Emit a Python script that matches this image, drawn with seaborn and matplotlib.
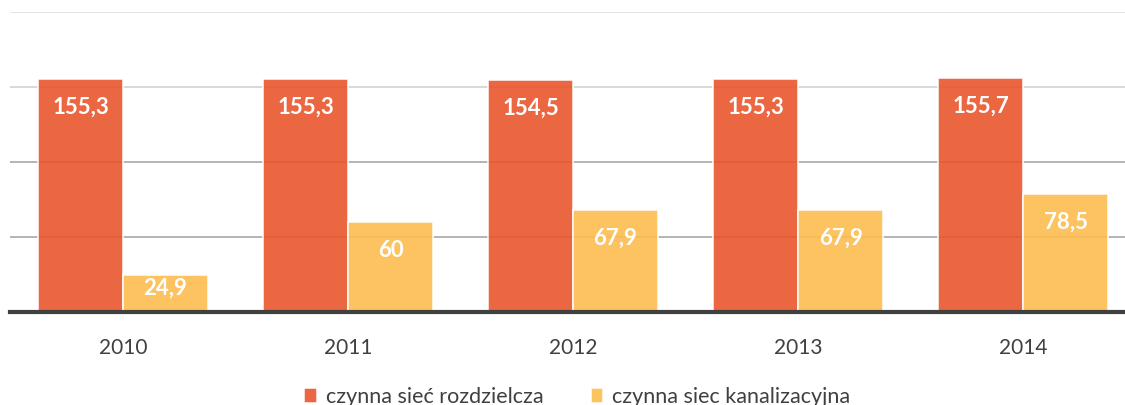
import pandas as pd
import matplotlib.pyplot as plt
import seaborn as sns

# === Data ===
years = ["2010", "2011", "2012", "2013", "2014"]
siec_rozdzielcza = [155.3, 155.3, 154.5, 155.3, 155.7]
siec_kanalizacyjna = [24.9, 60, 67.9, 67.9, 78.5]
series_names = ["czynna sieć rozdzielcza", "czynna siec kanalizacyjna"]
colors = ["#E8562D", "#FDBD50"]

df = pd.DataFrame({
    "rok": years * 2,
    "wartosc": siec_rozdzielcza + siec_kanalizacyjna,
    "seria": [series_names[0]] * len(years) + [series_names[1]] * len(years),
})

# === Figure ===
sns.set_style("white")
plt.rcParams["font.family"] = ["Lato", "DejaVu Sans"]

fig = plt.figure(figsize=(11.25, 4.05), dpi=100)
ax = fig.add_axes([10 / 1125, 93 / 405, 1115 / 1125, 300 / 405])

# gridlines
for y, c in [(200, "#E3E3E3"), (150, "#D6D6D6"), (100, "#AFAFAF"), (50, "#AFAFAF")]:
    ax.axhline(y, color=c, lw=1.3, zorder=0)

sns.barplot(data=df, x="rok", y="wartosc", hue="seria", palette=colors,
            saturation=1, width=0.756, alpha=0.9, linewidth=1.2,
            legend=True, ax=ax, zorder=2)

for cont in ax.containers:
    for bar in cont:
        bar.set_edgecolor((1, 1, 1, 0.4))

# value labels
for cont in ax.containers:
    for bar in cont:
        v = bar.get_height()
        x = bar.get_x() + bar.get_width() / 2
        txt = f"{v:g}".replace(".", ",")
        ax.text(x, max(v - 18.7, v * 0.65), txt, ha="center", va="center",
                color="white", fontsize=16, fontweight="bold", zorder=3)

ax.set_xlim(-0.502, 4.453)
ax.set_ylim(0, 200)
ax.set_xlabel("")
ax.set_ylabel("")
ax.set_yticks([])
for s in ["top", "right", "left"]:
    ax.spines[s].set_visible(False)
ax.spines["bottom"].set_color("#404040")
ax.spines["bottom"].set_linewidth(3)
ax.spines["bottom"].set_zorder(4)
ax.tick_params(axis="x", length=0, pad=19, labelsize=15, labelcolor="#404040")

# legend at bottom
handles, labels = ax.get_legend_handles_labels()
ax.get_legend().remove()
fig.legend(handles, labels, loc="center", bbox_to_anchor=(0.513, 0.02),
           ncol=2, frameon=False, fontsize=15.5, handlelength=0.6,
           handleheight=0.7, handletextpad=0.4, columnspacing=2.2,
           labelcolor="#404040")

fig.savefig("out.png", dpi=100)
plt.close(fig)
